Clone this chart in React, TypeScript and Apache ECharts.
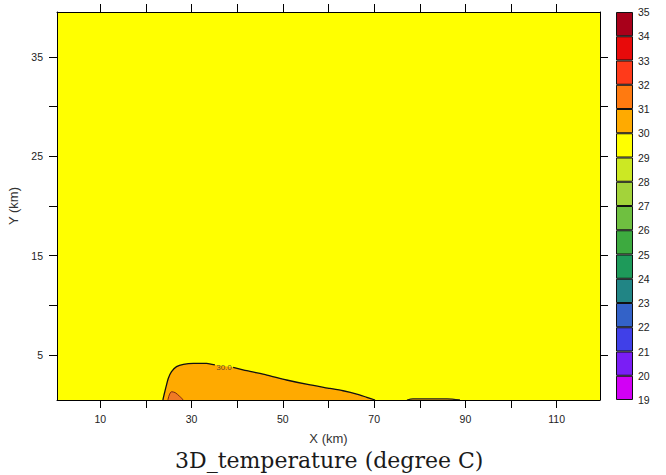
import React, { useEffect, useRef } from "react";
import * as echarts from "echarts";

// Contour outlines (x km, y km)
const contour30: number[][] = [
  [23.7, 0.5], [23.95, 1.0], [24.4, 1.84], [24.9, 2.68], [25.6, 3.35], [26.7, 3.85],
  [28.2, 4.09], [30.4, 4.19], [33.3, 4.19], [35.1, 4.02], [39.1, 3.79], [42.1, 3.45],
  [46.5, 3.01], [50.8, 2.51], [56.0, 2.01], [60.3, 1.67], [63.2, 1.43], [66.2, 1.1],
  [68.4, 0.77], [70.2, 0.5],
];
const contour31: number[][] = [
  [24.8, 0.5], [25.1, 1.0], [25.6, 1.33], [26.4, 1.24], [27.3, 0.9], [28.2, 0.5],
];
const contourSliver: number[][] = [
  [77.2, 0.5], [78.5, 0.62], [86.0, 0.62], [88.8, 0.5],
];
const contourLabel: number[][] = [[37.1, 3.8]];
const contourLabelText = "30.0";

// Axis ticks
const xTicks = [10, 20, 30, 40, 50, 60, 70, 80, 90, 100, 110];
const xLabels = [10, 30, 50, 70, 90, 110];
const yTicks = [5, 10, 15, 20, 25, 30, 35];
const yLabels = [5, 15, 25, 35];

// Colour bar levels (19 .. 35) and fill colours (bottom to top)
const levels = [19, 20, 21, 22, 23, 24, 25, 26, 27, 28, 29, 30, 31, 32, 33, 34, 35];
const levelColors = [
  "#D200F5", "#7A1EF5", "#4040E8", "#3362C8", "#218585", "#1E9A5A",
  "#3DAA3F", "#6FC040", "#A3D33A", "#CCE823", "#FFFF00", "#FFAA00",
  "#FF7A10", "#FF3A1A", "#E80A0A", "#A8001A",
];

const FIELD_COLOR = "#FFFF00";
const BLOB_COLOR = "#FFAA00";
const SPOT_COLOR = "#F07A25";

export default function App() {
  const ref = useRef<HTMLDivElement>(null);
  useEffect(() => {
    if (!ref.current) return;
    const chart = echarts.init(ref.current, null, { renderer: "svg" });
    const tickFont = { fontFamily: "Liberation Sans", fontSize: 10.5, color: "#222" };
    const commonX = {
      type: "value" as const,
      gridIndex: 0,
      min: 0.5,
      max: 119.5,
      splitLine: { show: false },
      axisLine: { show: true, lineStyle: { color: "#000", width: 1 } },
      axisTick: { show: true, length: 8, inside: false, customValues: xTicks, lineStyle: { color: "#000", width: 1 } },
      z: 10,
    };
    const commonY = {
      type: "value" as const,
      gridIndex: 0,
      min: 0.5,
      max: 39.5,
      splitLine: { show: false },
      axisLine: { show: true, lineStyle: { color: "#000", width: 1 } },
      axisTick: { show: true, length: 8, inside: false, customValues: yTicks, lineStyle: { color: "#000", width: 1 } },
      z: 10,
    };
    const barSeries = levelColors.map((c, i) => ({
      type: "bar" as const,
      xAxisIndex: 2,
      yAxisIndex: 2,
      stack: "cb",
      barWidth: "100%",
      data: [1],
      itemStyle: { color: c, borderColor: "#111", borderWidth: 1 },
      silent: true,
      z: 3,
    }));
    chart.setOption({
      animation: false,
      backgroundColor: "#fff",
      title: {
        text: "3D_temperature (degree C)",
        left: 175,
        top: 449,
        padding: 0,
        textStyle: { fontFamily: "DejaVu Serif", fontSize: 22, fontWeight: "normal", color: "#1a1a1a" },
      },
      grid: [
        { left: 57, top: 12, width: 543, height: 388, show: true, backgroundColor: FIELD_COLOR, borderWidth: 0, outerBoundsMode: "none", containLabel: false },
        { left: 616, top: 12, width: 17, height: 388, show: false, outerBoundsMode: "none", containLabel: false },
      ],
      xAxis: [
        {
          ...commonX,
          position: "bottom",
          name: "X (km)",
          nameLocation: "middle",
          nameGap: 32,
          nameTextStyle: { fontFamily: "Liberation Sans", fontSize: 13, color: "#333" },
          axisLabel: { show: true, margin: 13, customValues: xLabels, ...tickFont },
        },
        { ...commonX, position: "top", axisLabel: { show: false } },
        {
          type: "category",
          gridIndex: 1,
          data: ["cb"],
          boundaryGap: true,
          axisLine: { show: false },
          axisTick: { show: false },
          axisLabel: { show: false },
          splitLine: { show: false },
        },
      ],
      yAxis: [
        {
          ...commonY,
          position: "left",
          name: "Y (km)",
          nameLocation: "middle",
          nameGap: 37,
          nameTextStyle: { fontFamily: "Liberation Sans", fontSize: 13, color: "#333" },
          axisLabel: { show: true, margin: 14, customValues: yLabels, ...tickFont },
        },
        { ...commonY, position: "right", axisLabel: { show: false } },
        {
          type: "value",
          gridIndex: 1,
          position: "right",
          min: 0,
          max: levels.length - 1,
          interval: 1,
          splitLine: { show: false },
          axisLine: { show: false },
          axisTick: { show: false },
          axisLabel: {
            show: true,
            margin: 5,
            fontFamily: "Liberation Sans",
            fontSize: 10.5,
            color: "#222",
            formatter: (v: number) => String(levels[Math.round(v)]),
          },
        },
      ],
      series: [
        {
          type: "line",
          xAxisIndex: 0,
          yAxisIndex: 0,
          data: contour30,
          smooth: 0.2,
          symbol: "none",
          lineStyle: { width: 0 },
          areaStyle: { color: BLOB_COLOR, opacity: 1, origin: "start" },
          z: 2,
        },
        {
          type: "line",
          xAxisIndex: 0,
          yAxisIndex: 0,
          data: contour30.slice(0, 10),
          smooth: 0.2,
          symbol: "none",
          lineStyle: { width: 1.3, color: "#111" },
          z: 4,
        },
        {
          type: "line",
          xAxisIndex: 0,
          yAxisIndex: 0,
          data: contour30.slice(10),
          smooth: 0.2,
          symbol: "none",
          lineStyle: { width: 1.3, color: "#111" },
          z: 4,
        },
        {
          type: "line",
          xAxisIndex: 0,
          yAxisIndex: 0,
          data: contour31,
          smooth: 0.3,
          symbol: "none",
          lineStyle: { width: 1, color: "#7a2a10" },
          areaStyle: { color: SPOT_COLOR, opacity: 1, origin: "start" },
          z: 3,
        },
        {
          type: "line",
          xAxisIndex: 0,
          yAxisIndex: 0,
          data: contourSliver,
          smooth: 0.3,
          symbol: "none",
          lineStyle: { width: 1.3, color: "#222" },
          areaStyle: { color: BLOB_COLOR, opacity: 1, origin: "start" },
          z: 3,
        },
        {
          type: "scatter",
          xAxisIndex: 0,
          yAxisIndex: 0,
          data: contourLabel,
          symbolSize: 2,
          itemStyle: { color: "rgba(0,0,0,0)" },
          label: {
            show: true,
            position: "inside",
            formatter: () => contourLabelText,
            fontFamily: "Liberation Sans",
            fontSize: 8,
            color: "#333",
          },
          z: 5,
        },
        ...barSeries,
      ],
    });
    return () => chart.dispose();
  }, []);
  return (
    <div
      ref={ref}
      style={{ position: "fixed", left: 0, top: 0, width: 666, height: 475 }}
    />
  );
}
